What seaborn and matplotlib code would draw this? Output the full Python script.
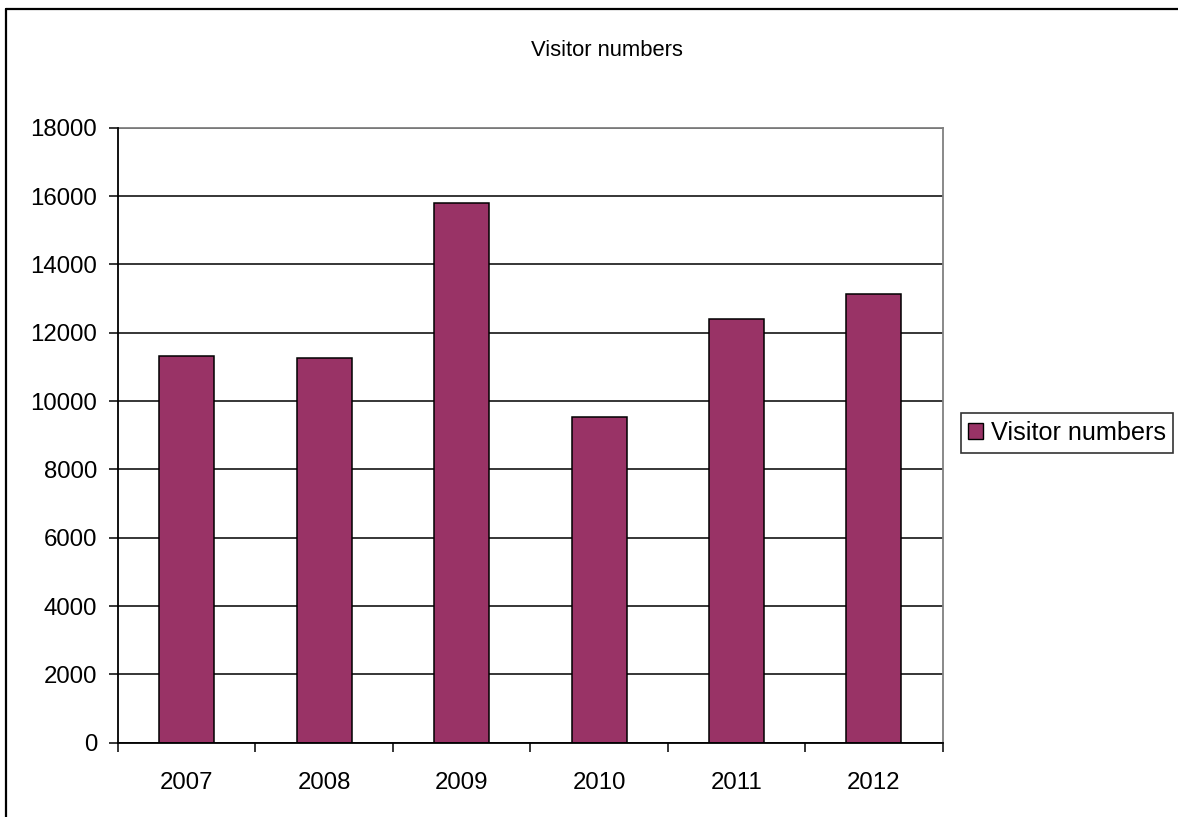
import matplotlib
matplotlib.use("Agg")
import matplotlib.pyplot as plt
import seaborn as sns
import pandas as pd
from matplotlib.lines import Line2D
from matplotlib.patches import Patch

years = ["2007", "2008", "2009", "2010", "2011", "2012"]
visitors = [11330, 11260, 15800, 9520, 12400, 13130]
yticks = [0, 2000, 4000, 6000, 8000, 10000, 12000, 14000, 16000, 18000]
series_name = "Visitor numbers"
title = "Visitor numbers"

sns.set_theme(style="white")
plt.rcParams['font.family'] = ['Liberation Sans', 'DejaVu Sans']
plt.rcParams['text.color'] = 'black'
plt.rcParams['xtick.color'] = 'black'
plt.rcParams['ytick.color'] = 'black'
plt.rcParams['axes.labelcolor'] = 'black'

W, H = 1178, 817
fig = plt.figure(figsize=(W / 100, H / 100), dpi=100)
ax = fig.add_axes([118 / W, 1 - 742.7 / H, (942.7 - 118) / W, (742.7 - 127.7) / H])

df = pd.DataFrame({"year": years, "visitors": visitors})
sns.barplot(data=df, x="year", y="visitors", ax=ax, color="#993366",
            saturation=1, width=0.4, edgecolor="black", linewidth=1.1, zorder=3)

ax.set_xlim(-0.5, len(years) - 0.5)
ax.set_ylim(0, 18000)
ax.set_yticks(yticks)
ax.set_yticklabels([str(v) for v in yticks], fontsize=17.3)
ax.yaxis.grid(True, color="black", linewidth=1.1, zorder=0)
ax.set_axisbelow(True)

# major x ticks at category boundaries, labels at centers
ax.set_xticks([i - 0.5 for i in range(len(years) + 1)])
ax.set_xticklabels([])
ax.set_xticks(list(range(len(years))), minor=True)
ax.set_xticklabels(years, minor=True, fontsize=17.3)
ax.tick_params(axis="x", which="major", direction="out", length=6.5, width=1.1,
               color="black", bottom=True)
ax.tick_params(axis="x", which="minor", length=0, pad=21)
ax.tick_params(axis="y", direction="out", length=6.5, width=1.1, color="black",
               left=True, pad=8.5)
ax.set_xlabel("")
ax.set_ylabel("")

for s in ["left", "bottom"]:
    ax.spines[s].set_color("black")
    ax.spines[s].set_linewidth(1.3)
    ax.spines[s].set_zorder(5)
for s in ["top", "right"]:
    ax.spines[s].set_visible(True)
    ax.spines[s].set_color("#808080")
    ax.spines[s].set_linewidth(1.3)

fig.text(607 / W, 1 - 50 / H, title, ha="center", va="center", fontsize=15.8,
         color="black")

handle = Patch(facecolor="#993366", edgecolor="black", linewidth=1.0)
leg = fig.legend([handle], [series_name], loc="center",
                 bbox_to_anchor=(1067 / W, 1 - 433 / H), fontsize=18.2,
                 frameon=True, fancybox=False, edgecolor="black",
                 handlelength=0.6, handleheight=0.6, handletextpad=0.3,
                 borderpad=0.3, borderaxespad=0)
leg.get_frame().set_linewidth(1.2)
for t in leg.get_texts():
    t.set_color("black")

# outer chart border (top and left visible)
fig.add_artist(Line2D([5.5 / W, 5.5 / W], [0, 1 - 8.5 / H], color="black",
                      linewidth=1.6, transform=fig.transFigure))
fig.add_artist(Line2D([5.5 / W, 1], [1 - 8.5 / H, 1 - 8.5 / H], color="black",
                      linewidth=1.6, transform=fig.transFigure))

fig.savefig("out.png", dpi=100, facecolor="white")
